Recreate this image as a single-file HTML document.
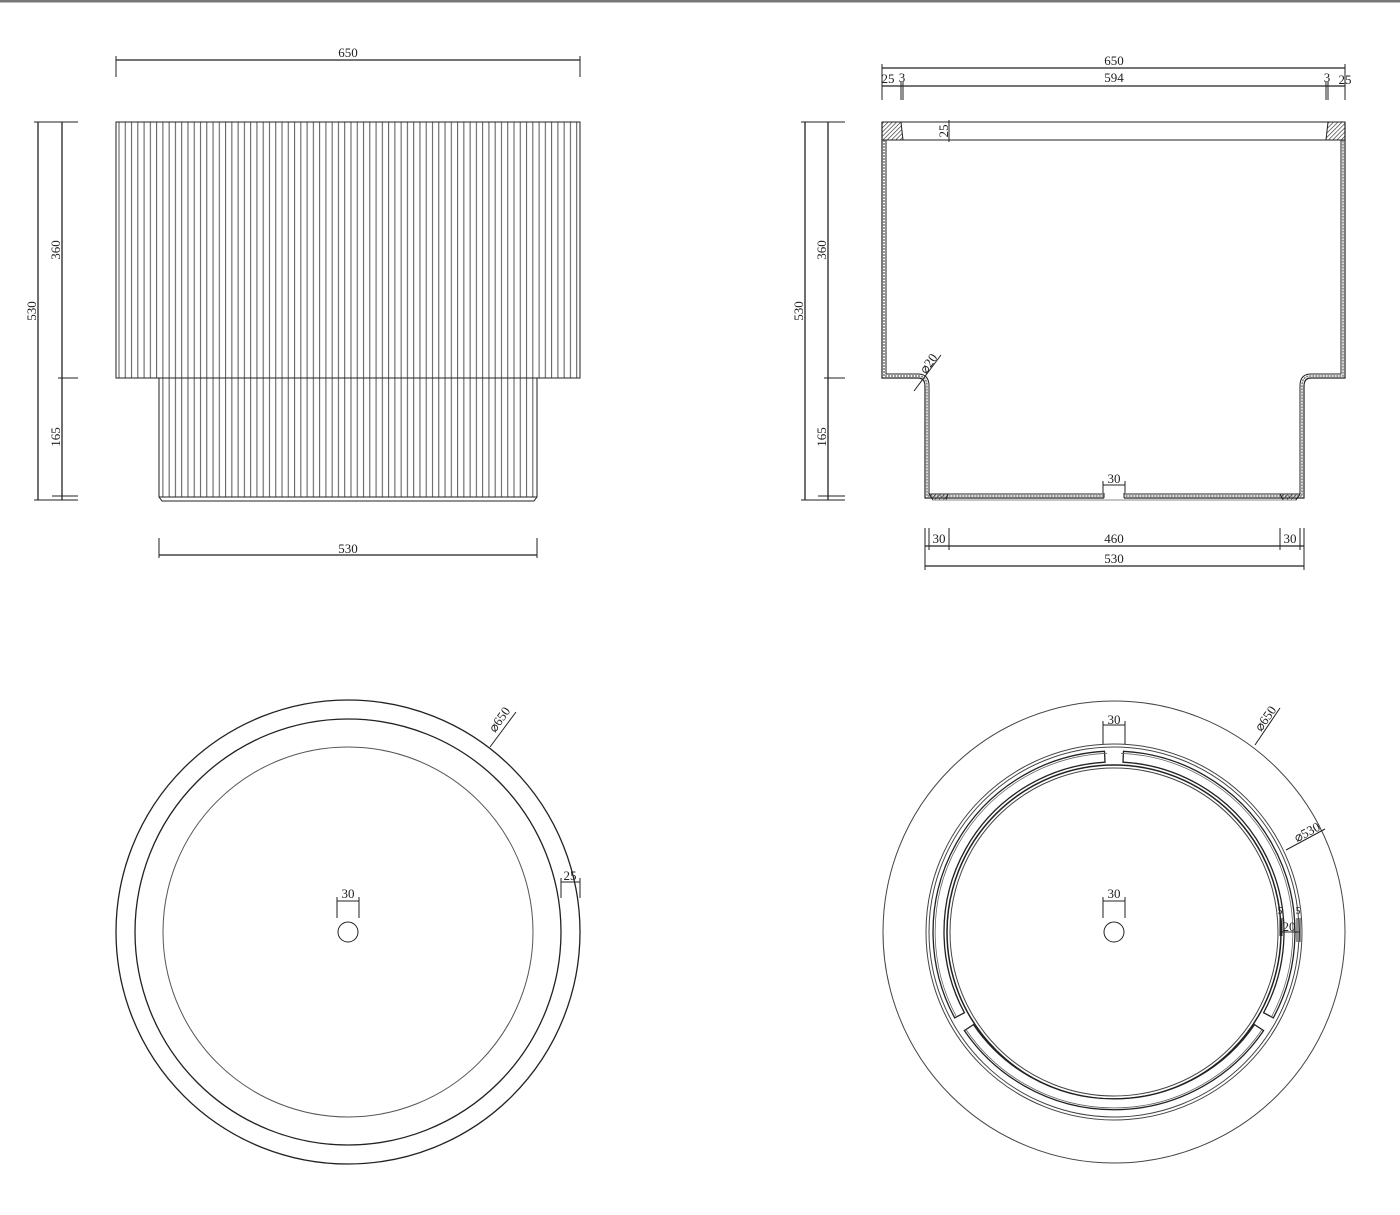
<!DOCTYPE html>
<html><head><meta charset="utf-8"><style>
html,body{margin:0;padding:0;background:#fff}
svg{display:block}
text{font-family:"Liberation Serif",serif;font-size:13px;fill:#222}
</style></head><body>
<svg width="1400" height="1215" viewBox="0 0 1400 1215" xmlns="http://www.w3.org/2000/svg">
<defs>
<pattern id="fl" x="116" y="0" width="6.27" height="10" patternUnits="userSpaceOnUse">
<line x1="3" y1="0" x2="3" y2="10" stroke="#555" stroke-width="1"/>
</pattern>
<pattern id="ht" width="3" height="3" patternUnits="userSpaceOnUse" patternTransform="rotate(45)">
<line x1="0" y1="0" x2="0" y2="3" stroke="#222" stroke-width="1.2"/>
</pattern>
</defs>
<rect x="0" y="0" width="1400" height="2" fill="#777"/>
<line x1="0" y1="2.5" x2="1400" y2="2.5" stroke="#bbb"/>

<!-- FRONT VIEW -->
<g stroke="#222" fill="none" stroke-width="1">
<rect x="116" y="122" width="464" height="256" fill="url(#fl)"/>
<rect x="116" y="122" width="464" height="256"/>
<rect x="159" y="378" width="378" height="119" fill="url(#fl)"/>
<rect x="159" y="378" width="378" height="119"/>
<path d="M159 497 L162 501 L534 501 L537 497"/>
<!-- dims -->
<line x1="116" y1="60" x2="580" y2="60" stroke-width="1.3"/>
<line x1="116" y1="56" x2="116" y2="77"/><line x1="580" y1="56" x2="580" y2="77"/>
<line x1="159" y1="555" x2="537" y2="555" stroke-width="1.3"/>
<line x1="159" y1="538" x2="159" y2="558"/><line x1="537" y1="538" x2="537" y2="558"/>
<line x1="38" y1="122" x2="38" y2="500" stroke-width="1.3"/>
<line x1="62" y1="122" x2="62" y2="500" stroke-width="1.3"/>
<line x1="34" y1="122" x2="78" y2="122"/>
<line x1="58" y1="378" x2="78" y2="378"/>
<line x1="52" y1="496" x2="78" y2="496"/>
<line x1="34" y1="500" x2="78" y2="500"/>
</g>
<text x="348" y="57" text-anchor="middle">650</text>
<text x="348" y="553" text-anchor="middle">530</text>
<text transform="translate(36,311) rotate(-90)" text-anchor="middle">530</text>
<text transform="translate(60,250) rotate(-90)" text-anchor="middle">360</text>
<text transform="translate(60,437) rotate(-90)" text-anchor="middle">165</text>

<!-- SECTION VIEW -->
<g stroke="#222" fill="none" stroke-width="1">
<path d="M882 122 L882 378 L918 378 Q925 378 925 386 L925 498 L1304 498 L1304 386 Q1304 378 1311 378 L1345 378 L1345 122" stroke-width="1.2"/>
<path d="M886 140 L886 374 L918 374 Q929 374 929 386 L929 494 L1300 494 L1300 386 Q1300 374 1311 374 L1341 374 L1341 140" stroke-width="1"/>
<path d="M884 140 L884 376 L918 376 Q927 376 927 386 L927 496 L1302 496 L1302 386 Q1302 376 1311 376 L1343 376 L1343 140" stroke="#777" stroke-dasharray="2 1" stroke-width="1.5"/>
<rect x="1104" y="492" width="20" height="7" fill="#fff" stroke="none"/>
<line x1="1104" y1="493" x2="1104" y2="498"/><line x1="1124" y1="493" x2="1124" y2="498"/>
<line x1="882" y1="122" x2="1345" y2="122"/>
<line x1="882" y1="140" x2="1345" y2="140"/>
<path d="M882 122 L901 122 L903 140 L882 140 Z" fill="url(#ht)"/>
<path d="M1345 122 L1328 122 L1326 140 L1345 140 Z" fill="url(#ht)"/>
<path d="M929 494 L948 494 L946 500 L933 500 Z" fill="url(#ht)"/>
<path d="M1300 494 L1280 494 L1283 500 L1296 500 Z" fill="url(#ht)"/>
<line x1="933" y1="500" x2="1296" y2="500" stroke="#888"/>
<!-- 25 rim dim -->
<line x1="949" y1="120" x2="949" y2="142"/>
<line x1="935" y1="122" x2="952" y2="122"/><line x1="935" y1="140" x2="952" y2="140"/>
<!-- top dims -->
<line x1="882" y1="68" x2="1345" y2="68" stroke-width="1.3"/>
<line x1="882" y1="86" x2="1345" y2="86" stroke-width="1.3"/>
<line x1="882" y1="64" x2="882" y2="100"/><line x1="1345" y1="64" x2="1345" y2="100"/>
<line x1="901" y1="82" x2="901" y2="100"/><line x1="903" y1="82" x2="903" y2="100"/>
<line x1="1326" y1="82" x2="1326" y2="100"/><line x1="1328" y1="82" x2="1328" y2="100"/>
<!-- verticals -->
<line x1="805" y1="122" x2="805" y2="500" stroke-width="1.3"/>
<line x1="828" y1="122" x2="828" y2="500" stroke-width="1.3"/>
<line x1="801" y1="122" x2="845" y2="122"/>
<line x1="824" y1="378" x2="845" y2="378"/>
<line x1="818" y1="496" x2="845" y2="496"/>
<line x1="801" y1="500" x2="845" y2="500"/>
<!-- r20 leader -->
<line x1="914" y1="391" x2="941" y2="355"/>
<!-- 30 hole dim -->
<line x1="1103" y1="485" x2="1125" y2="485"/>
<line x1="1103" y1="481" x2="1103" y2="493"/><line x1="1125" y1="481" x2="1125" y2="493"/>
<!-- bottom dims -->
<line x1="925" y1="546" x2="1304" y2="546" stroke-width="1.3"/>
<line x1="925" y1="566" x2="1304" y2="566" stroke-width="1.3"/>
<line x1="925" y1="528" x2="925" y2="570"/><line x1="1304" y1="528" x2="1304" y2="570"/>
<line x1="929" y1="528" x2="929" y2="550"/><line x1="949" y1="528" x2="949" y2="550"/>
<line x1="1280" y1="528" x2="1280" y2="550"/><line x1="1300" y1="528" x2="1300" y2="550"/>
</g>
<text x="1114" y="65" text-anchor="middle">650</text>
<text x="1114" y="82" text-anchor="middle">594</text>
<text x="888" y="83" text-anchor="middle">25</text>
<text x="902" y="82" text-anchor="middle">3</text>
<text x="1327" y="82" text-anchor="middle">3</text>
<text x="1345" y="84" text-anchor="middle">25</text>
<text transform="translate(948,131) rotate(-90)" text-anchor="middle">25</text>
<text transform="translate(803,311) rotate(-90)" text-anchor="middle">530</text>
<text transform="translate(826,250) rotate(-90)" text-anchor="middle">360</text>
<text transform="translate(826,437) rotate(-90)" text-anchor="middle">165</text>
<text transform="translate(932,366) rotate(-55)" text-anchor="middle">⌀20</text>
<text x="1114" y="483" text-anchor="middle">30</text>
<text x="939" y="543" text-anchor="middle">30</text>
<text x="1114" y="543" text-anchor="middle">460</text>
<text x="1290" y="543" text-anchor="middle">30</text>
<text x="1114" y="563" text-anchor="middle">530</text>

<!-- TOP VIEW LEFT -->
<g stroke="#222" fill="none">
<circle cx="348" cy="932" r="232" stroke-width="1.3"/>
<circle cx="348" cy="932" r="213" stroke-width="1.3"/>
<circle cx="348" cy="932" r="185" stroke="#555" stroke-width="1"/>
<circle cx="348" cy="932" r="10" stroke-width="1"/>
<line x1="337" y1="901" x2="359" y2="901"/>
<line x1="337" y1="897" x2="337" y2="918"/><line x1="359" y1="897" x2="359" y2="918"/>
<line x1="490" y1="747" x2="516" y2="712"/>
<line x1="561" y1="882" x2="580" y2="882"/>
<line x1="561" y1="878" x2="561" y2="898"/><line x1="580" y1="878" x2="580" y2="898"/>
</g>
<text x="348" y="898" text-anchor="middle">30</text>
<text x="570" y="880" text-anchor="middle">25</text>
<text transform="translate(503,722) rotate(-55)" text-anchor="middle">⌀650</text>

<!-- TOP VIEW RIGHT -->
<g stroke="#222" fill="none" transform="translate(1114,932)">
<circle r="231" stroke="#444" stroke-width="1"/>
<circle r="188" stroke="#444" stroke-width="1"/>
<circle r="185" stroke="#444" stroke-width="1"/>
<circle r="167" stroke-width="1.5"/>
<circle r="164" stroke="#444" stroke-width="1"/>
<circle r="10" stroke-width="1"/>
<!-- segments: channel between r=181 and r=170 -->
<path d="M9.5 -180.7 A181 181 0 0 1 159.3 85.9 L149.6 80.7 A170 170 0 0 0 9.0 -169.8 Z" stroke-width="1.3" fill="#fff"/>
<path d="M149.6 98.6 A181 181 0 0 1 -149.6 98.6 L-140.5 92.6 A170 170 0 0 0 140.5 92.6 Z" stroke-width="1.3" fill="#fff"/>
<path d="M-159.3 85.9 A181 181 0 0 1 -9.5 -180.7 L-9.0 -169.8 A170 170 0 0 0 -149.6 80.7 Z" stroke-width="1.3" fill="#fff"/>
<path d="M7 -178.7 A179 179 0 0 1 157.5 84.9" stroke="#666" stroke-width="0.8"/>
<path d="M148 97.6 A179 179 0 0 1 -148 97.6" stroke="#666" stroke-width="0.8"/>
<path d="M-157.5 84.9 A179 179 0 0 1 -7 -178.7" stroke="#666" stroke-width="0.8"/>
<!-- dims -->
<line x1="-11" y1="-207" x2="11" y2="-207"/>
<line x1="-11" y1="-211" x2="-11" y2="-188"/><line x1="11" y1="-211" x2="11" y2="-188"/>
<line x1="-11" y1="-31" x2="11" y2="-31"/>
<line x1="-11" y1="-35" x2="-11" y2="-14"/><line x1="11" y1="-35" x2="11" y2="-14"/>
<line x1="141" y1="-187" x2="166" y2="-224"/>
<line x1="172" y1="-82" x2="211" y2="-103"/>
<line x1="166" y1="0" x2="186" y2="0"/>
<line x1="166" y1="-14" x2="166" y2="4"/><line x1="168" y1="-14" x2="168" y2="4"/>
<line x1="183" y1="-14" x2="183" y2="10"/><line x1="186" y1="-14" x2="186" y2="10"/>
</g>
<text x="1114" y="724" text-anchor="middle">30</text>
<text x="1114" y="898" text-anchor="middle">30</text>
<text transform="translate(1269,721) rotate(-55)" text-anchor="middle">⌀650</text>
<text transform="translate(1309,836) rotate(-28)" text-anchor="middle">⌀530</text>
<text x="1289" y="931" text-anchor="middle">20</text>
<text x="1280" y="914" text-anchor="middle" style="font-size:10px">5</text>
<text x="1298" y="914" text-anchor="middle" style="font-size:10px">5</text>
</svg>
</body></html>
